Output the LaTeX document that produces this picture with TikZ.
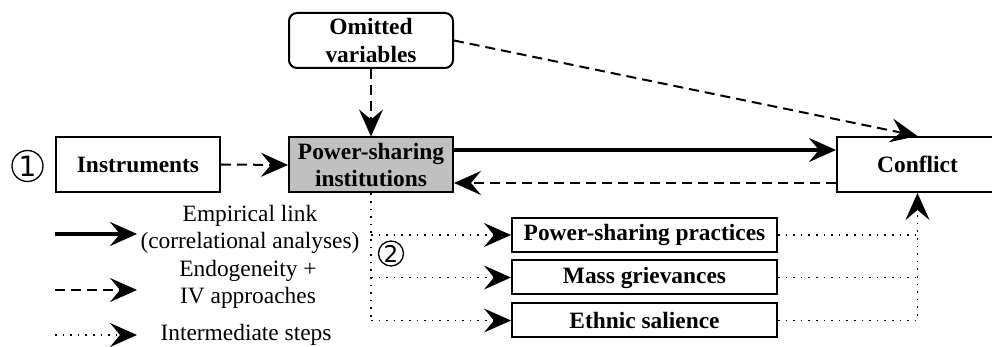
\documentclass[tikz,border=0pt]{standalone}
\usepackage{fontspec}
\setmainfont{Liberation Serif}
\newfontfamily\symfont{DejaVu Sans}
\usetikzlibrary{arrows.meta,positioning}

\tikzset{
  boxstyle/.style={draw=black, line width=1pt, fill=white, align=center,
    font=\fontsize{11.7}{13.8}\selectfont\bfseries, inner sep=0pt},
  bigbox/.style={boxstyle, minimum width=82pt, minimum height=27.5pt},
  smallbox/.style={boxstyle, minimum width=132.5pt, minimum height=17pt},
  legendtext/.style={align=center, font=\fontsize{11.7}{13.4}\selectfont, inner sep=0pt},
  tip/.style={-{Stealth[length=13.5pt, width=12pt, inset=5pt]}},
  empirical/.style={tip, line width=2pt},
  endog/.style={tip, line width=1pt, dash pattern=on 5pt off 3pt},
  interm/.style={tip, line width=0.8pt, dash pattern=on 0.8pt off 3pt},
  stepmarker/.style={circle, draw=black, line width=0.65pt, inner sep=0pt}
}

\begin{document}
\begin{tikzpicture}[x=0.5pt, y=-0.5pt]
  \useasboundingbox (0,0) rectangle (992,347);

  % main boxes
  \node[bigbox] (inst) at (138,164.5) {Instruments};
  \node[bigbox, fill={rgb,255:red,192;green,192;blue,192}] (psi) at (371,165) {Power-sharing\\institutions};
  \node[bigbox, rounded corners=4pt] (omit) at (371,40.5) {Omitted\\variables};
  \node[bigbox, minimum width=80.5pt] (conf) at (917.5,164.5) {Conflict};

  % mechanism boxes
  \node[smallbox] (psp) at (644.5,235) {Power-sharing practices};
  \node[smallbox] (mg)  at (644.5,277.5) {Mass grievances};
  \node[smallbox] (es)  at (644.5,320.5) {Ethnic salience};

  % circled step markers
  \node[stepmarker, minimum size=15.5pt, font=\symfont\fontsize{14}{14}\selectfont] (c1) at (27.5,166) {1};
  \node[stepmarker, minimum size=12.5pt, font=\symfont\fontsize{11.5}{11.5}\selectfont] (c2) at (391,253.5) {2};

  % causal links
  \draw[endog] (inst.east) -- (psi.west);
  \draw[endog] (omit.south) -- (psi.north);
  \draw[endog] (omit.east) -- (conf.north);
  \draw[empirical] (psi.east |- 0,150) -- (conf.west |- 0,150);
  \draw[endog] (conf.west |- 0,183) -- (psi.east |- 0,183);

  % intermediate steps
  \draw[interm, -] (psi.south) -- (psi.south |- es.west);
  \draw[interm] (psi.south |- psp.west) -- (psp.west);
  \draw[interm] (psi.south |- mg.west) -- (mg.west);
  \draw[interm] (psi.south |- es.west) -- (es.west);
  \draw[interm, -] (psp.east) -- (psp.east -| conf.south);
  \draw[interm, -] (mg.east) -- (mg.east -| conf.south);
  \draw[interm] (es.east) -| (conf.south);

  % legend
  \coordinate (l1a) at (55,234);  \coordinate (l1b) at (137,234);
  \coordinate (l2a) at (55,290);  \coordinate (l2b) at (137,290);
  \coordinate (l3a) at (55,335);  \coordinate (l3b) at (137,335);
  \draw[empirical] (l1a) -- (l1b);
  \draw[endog] (l2a) -- (l2b);
  \draw[interm] (l3a) -- (l3b);
  \node[legendtext] (t1) at (250,229.5) {Empirical link\\(correlational analyses)};
  \node[legendtext] (t2) at (248,284.5) {Endogeneity +\\IV approaches};
  \node[legendtext] (t3) at (246,335) {Intermediate steps};
\end{tikzpicture}
\end{document}
